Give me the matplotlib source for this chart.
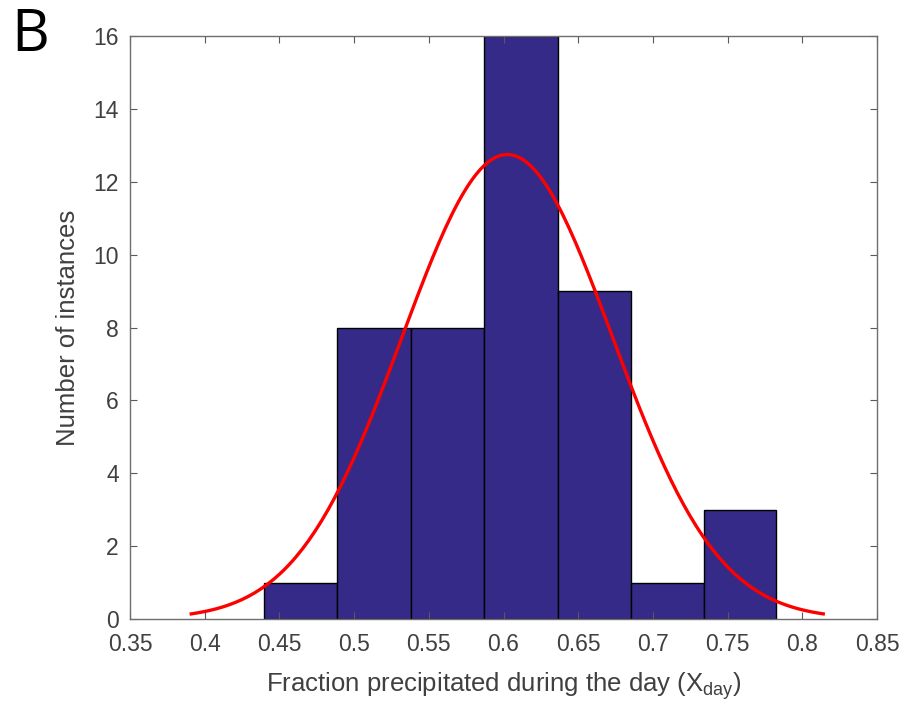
import numpy as np
import matplotlib
matplotlib.use("Agg")
import matplotlib.pyplot as plt

# histogram bins and counts
bin_edges = [0.4399, 0.4888, 0.5379, 0.5870, 0.6362, 0.6850, 0.7345, 0.7827]
counts = [1, 8, 8, 16, 9, 1, 3]

# fitted normal (histfit style)
fit_mu = 0.6025
fit_sigma = 0.0705

xticks = [0.35, 0.4, 0.45, 0.5, 0.55, 0.6, 0.65, 0.7, 0.75, 0.8, 0.85]
yticks = [0, 2, 4, 6, 8, 10, 12, 14, 16]

plt.rcParams['font.family'] = ['Liberation Sans', 'DejaVu Sans']
plt.rcParams['mathtext.fontset'] = 'custom'
plt.rcParams['mathtext.rm'] = 'Liberation Sans'

fig = plt.figure(figsize=(9.01, 7.04), dpi=100)
ax = fig.add_axes([0.1443, 0.1207, 0.8291, 0.8282])

edges = np.array(bin_edges)
ax.bar(edges[:-1], counts, width=np.diff(edges), align='edge',
       color='#352a87', edgecolor='black', linewidth=1.0)

n = sum(counts)
bw = np.mean(np.diff(edges))
xs = np.linspace(fit_mu - 3 * fit_sigma, fit_mu + 3 * fit_sigma, 200)
ys = n * bw * np.exp(-0.5 * ((xs - fit_mu) / fit_sigma) ** 2) / (fit_sigma * np.sqrt(2 * np.pi))
ax.plot(xs, ys, color='red', linewidth=2.4)

ax.set_xlim(0.35, 0.85)
ax.set_ylim(0, 16)
ax.set_xticks(xticks)
ax.set_xticklabels([f"{t:g}" for t in xticks])
ax.set_yticks(yticks)
ax.tick_params(direction='in', top=True, right=True, length=5, width=0.8,
               labelsize=16.5, colors='#5a5a5a', labelcolor='#404040')
ax.tick_params(axis='x', pad=10)
ax.tick_params(axis='y', pad=8)
for s in ax.spines.values():
    s.set_color('#6e6e6e')
    s.set_linewidth(1.0)

ax.set_xlabel(r'Fraction precipitated during the day (X$_{\mathrm{day}}$)',
              fontsize=18.5, color='#404040', labelpad=10)
ax.set_ylabel('Number of instances', fontsize=18.5, color='#404040', labelpad=10)

fig.text(0.012, 0.928, 'B', fontsize=42, color='black', family=['Open Sans', 'DejaVu Sans'])

fig.savefig('out.png', dpi=100)
